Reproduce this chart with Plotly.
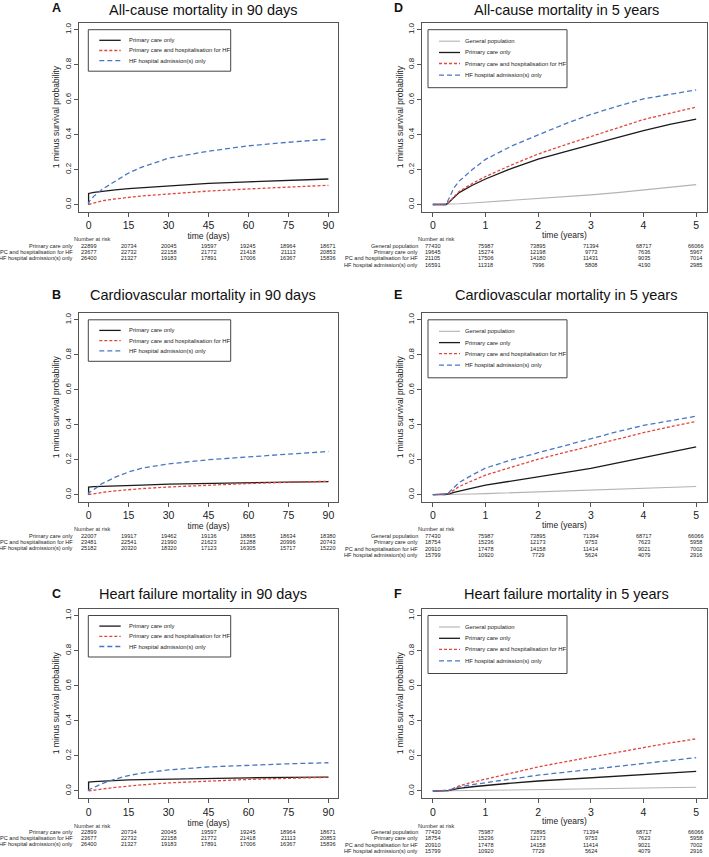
import plotly.graph_objects as go

W, H = 709, 857
FONT = "Liberation Sans, Arial, Helvetica, sans-serif"

# ---------------- data ----------------
DAYS = [0, 0, 2, 5, 10, 15, 20, 30, 45, 60, 75, 90]
YEARS = [0, 0.25, 0.3, 0.4, 0.5, 0.75, 1, 1.5, 2, 2.5, 3, 3.5, 4, 4.5, 5]

DAY_TICKS = [0, 15, 30, 45, 60, 75, 90]
YEAR_TICKS = [0, 1, 2, 3, 4, 5]
Y_TICKS = [0, 0.2, 0.4, 0.6, 0.8, 1.0]
Y_TICK_LABELS = ["0.0", "0.2", "0.4", "0.6", "0.8", "1.0"]

GP = "General population"
PC = "Primary care only"
PCH = "Primary care and hospitalisation for HF"
HF = "HF hospital admission(s) only"
GROUPS_90 = [PC, PCH, HF]
GROUPS_5Y = [GP, PC, PCH, HF]
RISK_LABELS_90 = ["Primary care only", "PC and hospitalisation for HF", "HF hospital admission(s) only"]
RISK_LABELS_5Y = ["General population"] + RISK_LABELS_90

# Panel A: all-cause mortality, 90 days
A_PC = [0, 0.063, 0.070, 0.076, 0.084, 0.091, 0.096, 0.108, 0.121, 0.130, 0.138, 0.146]
A_PCH = [0, 0, 0.010, 0.021, 0.032, 0.042, 0.049, 0.060, 0.077, 0.089, 0.099, 0.110]
A_HF = [0, 0.012, 0.048, 0.086, 0.133, 0.180, 0.214, 0.265, 0.305, 0.336, 0.356, 0.374]
# Panel B: cardiovascular mortality, 90 days
B_PC = [0, 0.044, 0.046, 0.048, 0.050, 0.053, 0.055, 0.060, 0.065, 0.069, 0.072, 0.075]
B_PCH = [0, 0, 0.006, 0.013, 0.022, 0.029, 0.035, 0.044, 0.055, 0.064, 0.071, 0.077]
B_HF = [0, 0.010, 0.030, 0.063, 0.100, 0.130, 0.152, 0.176, 0.200, 0.218, 0.232, 0.247]
# Panel C: heart failure mortality, 90 days
C_PC = [0, 0.051, 0.053, 0.056, 0.060, 0.063, 0.065, 0.068, 0.072, 0.075, 0.077, 0.079]
C_PCH = [0, 0, 0.005, 0.011, 0.020, 0.028, 0.035, 0.046, 0.057, 0.066, 0.072, 0.078]
C_HF = [0, 0.006, 0.020, 0.042, 0.068, 0.088, 0.102, 0.120, 0.137, 0.147, 0.155, 0.161]
# Panel D: all-cause mortality, 5 years
D_GP = [0, 0, 0.001, 0.002, 0.004, 0.009, 0.014, 0.023, 0.032, 0.043, 0.055, 0.068, 0.083, 0.098, 0.114]
D_PC = [0, 0, 0.012, 0.040, 0.068, 0.110, 0.146, 0.207, 0.260, 0.301, 0.340, 0.382, 0.423, 0.458, 0.488]
D_PCH = [0, 0, 0.012, 0.042, 0.075, 0.120, 0.160, 0.227, 0.289, 0.340, 0.390, 0.440, 0.486, 0.522, 0.557]
D_HF = [0, 0, 0.030, 0.095, 0.134, 0.200, 0.258, 0.335, 0.398, 0.460, 0.515, 0.562, 0.604, 0.632, 0.656]
# Panel E: cardiovascular mortality, 5 years
E_GP = [0, 0, 0, 0.001, 0.002, 0.004, 0.006, 0.011, 0.016, 0.020, 0.024, 0.029, 0.034, 0.040, 0.047]
E_PC = [0, 0, 0.004, 0.013, 0.021, 0.038, 0.055, 0.080, 0.104, 0.126, 0.150, 0.180, 0.212, 0.243, 0.273]
E_PCH = [0, 0, 0.006, 0.025, 0.047, 0.080, 0.112, 0.158, 0.203, 0.241, 0.279, 0.318, 0.355, 0.388, 0.419]
E_HF = [0, 0, 0.012, 0.042, 0.070, 0.113, 0.152, 0.200, 0.241, 0.282, 0.320, 0.360, 0.396, 0.424, 0.449]
# Panel F: heart failure mortality, 5 years
F_GP = [0, 0, 0, 0.001, 0.001, 0.002, 0.004, 0.006, 0.008, 0.010, 0.012, 0.015, 0.017, 0.019, 0.021]
F_PC = [0, 0, 0.002, 0.009, 0.015, 0.024, 0.032, 0.045, 0.057, 0.066, 0.076, 0.086, 0.095, 0.104, 0.112]
F_PCH = [0, 0, 0.004, 0.016, 0.029, 0.050, 0.067, 0.103, 0.137, 0.166, 0.194, 0.222, 0.248, 0.274, 0.297]
F_HF = [0, 0, 0.004, 0.014, 0.023, 0.036, 0.048, 0.069, 0.090, 0.107, 0.124, 0.140, 0.156, 0.174, 0.190]

# Numbers at risk
RISK_A = [[22899, 20734, 20045, 19597, 19245, 18964, 18671],
          [23677, 22732, 22158, 21772, 21418, 21113, 20853],
          [26400, 21327, 19183, 17891, 17006, 16367, 15836]]
RISK_B = [[22007, 19917, 19462, 19136, 18865, 18634, 18380],
          [23481, 22541, 21990, 21623, 21288, 20996, 20743],
          [25182, 20320, 18320, 17123, 16305, 15717, 15220]]
RISK_C = [[22899, 20734, 20045, 19597, 19245, 18964, 18671],
          [23677, 22732, 22158, 21772, 21418, 21113, 20853],
          [26400, 21327, 19183, 17891, 17006, 16367, 15836]]
RISK_D = [[77430, 75987, 73895, 71394, 68717, 66066],
          [19645, 15274, 12198, 9773, 7636, 5967],
          [21105, 17506, 14180, 11431, 9035, 7014],
          [16591, 11318, 7996, 5808, 4190, 2985]]
RISK_E = [[77430, 75987, 73895, 71394, 68717, 66066],
          [18754, 15236, 12173, 9753, 7623, 5958],
          [20910, 17478, 14158, 11414, 9021, 7002],
          [15799, 10920, 7729, 5624, 4079, 2916]]
RISK_F = [[77430, 75987, 73895, 71394, 68717, 66066],
          [18754, 15236, 12173, 9753, 7623, 5958],
          [20910, 17478, 14158, 11414, 9021, 7002],
          [15799, 10920, 7729, 5624, 4079, 2916]]

# ---------------- styles / layout ----------------
STYLE = {
    GP: dict(color="#b3b3b3", width=1.1, dash="solid"),
    PC: dict(color="#1a1a1a", width=1.3, dash="solid"),
    PCH: dict(color="#e2453c", width=1.3, dash="3px,2px"),
    HF: dict(color="#4a76c1", width=1.3, dash="5px,3px"),
}

LEFT_BOX = (79.0, 338.0)
RIGHT_BOX = (422.3, 706.7)
ROW_BOX = [(22.7, 211.5), (312.8, 501.7), (608.5, 798.0)]
TITLE_Y = [10, 295, 593.5]
LETTER_Y = [8, 294.5, 594]


def fx(p):
    return p / W


def fy(p):
    return 1 - p / H


panels = [
    dict(letter="A", title="All-cause mortality in 90 days", col=0, row=0, xs=DAYS,
         series=[(PC, A_PC), (PCH, A_PCH), (HF, A_HF)], risk=RISK_A),
    dict(letter="B", title="Cardiovascular mortality in 90 days", col=0, row=1, xs=DAYS,
         series=[(PC, B_PC), (PCH, B_PCH), (HF, B_HF)], risk=RISK_B),
    dict(letter="C", title="Heart failure mortality in 90 days", col=0, row=2, xs=DAYS,
         series=[(PC, C_PC), (PCH, C_PCH), (HF, C_HF)], risk=RISK_C),
    dict(letter="D", title="All-cause mortality in 5 years", col=1, row=0, xs=YEARS,
         series=[(GP, D_GP), (PC, D_PC), (PCH, D_PCH), (HF, D_HF)], risk=RISK_D),
    dict(letter="E", title="Cardiovascular mortality in 5 years", col=1, row=1, xs=YEARS,
         series=[(GP, E_GP), (PC, E_PC), (PCH, E_PCH), (HF, E_HF)], risk=RISK_E),
    dict(letter="F", title="Heart failure mortality in 5 years", col=1, row=2, xs=YEARS,
         series=[(GP, F_GP), (PC, F_PC), (PCH, F_PCH), (HF, F_HF)], risk=RISK_F),
]

fig = go.Figure()
annotations = []
shapes = []
layout = dict(
    width=W, height=H, margin=dict(l=0, r=0, t=0, b=0),
    paper_bgcolor="white", plot_bgcolor="white",
    font=dict(family=FONT, color="#222"),
    showlegend=False,
)

for i, p in enumerate(panels, start=1):
    col, row = p["col"], p["row"]
    bx0, bx1 = LEFT_BOX if col == 0 else RIGHT_BOX
    by0, by1 = ROW_BOX[row]
    is90 = col == 0
    xticks = DAY_TICKS if is90 else YEAR_TICKS
    xrange_ = [-3.6, 93.6] if is90 else [-0.2, 5.2]
    xa = "xaxis" if i == 1 else f"xaxis{i}"
    ya = "yaxis" if i == 1 else f"yaxis{i}"
    xr = "x" if i == 1 else f"x{i}"
    yr = "y" if i == 1 else f"y{i}"

    layout[xa] = dict(
        domain=[fx(bx0), fx(bx1)], anchor=yr, range=xrange_,
        tickmode="array", tickvals=xticks, ticktext=[str(t) for t in xticks],
        ticks="outside", ticklen=4, tickcolor="#555", tickwidth=1,
        showline=True, mirror=True, linecolor="#555", linewidth=1,
        showgrid=False, zeroline=False, tickfont=dict(size=10.5, color="#222"),
        title=dict(text="time (days)" if is90 else "time (years)",
                   font=dict(size=8.5, color="#222"), standoff=1),
    )
    layout[ya] = dict(
        domain=[fy(by1), fy(by0)], anchor=xr, range=[-0.04, 1.04],
        tickmode="array", tickvals=Y_TICKS, ticktext=Y_TICK_LABELS,
        ticks="outside", ticklen=4, tickcolor="#555", tickwidth=1,
        showline=True, mirror=True, linecolor="#555", linewidth=1,
        showgrid=False, zeroline=False, tickangle=-90,
        tickfont=dict(size=8, color="#222"),
        title=dict(text="1 minus survival probability",
                   font=dict(size=8.5, color="#222"), standoff=2),
    )

    for grp, vals in p["series"]:
        fig.add_trace(go.Scatter(
            x=p["xs"], y=vals, mode="lines", name=grp, line=STYLE[grp],
            xaxis=xr, yaxis=yr, showlegend=False, hoverinfo="x+y+name",
        ))

    # title & letter
    tx = 203 if col == 0 else 566
    lx = 56 if col == 0 else 398
    annotations.append(dict(text=p["title"], x=fx(tx), y=fy(TITLE_Y[row]), xref="paper", yref="paper",
                            xanchor="center", yanchor="middle", showarrow=False,
                            font=dict(size=14.5, color="#111", family=FONT)))
    annotations.append(dict(text="<b>" + p["letter"] + "</b>", x=fx(lx), y=fy(LETTER_Y[row]),
                            xref="paper", yref="paper", xanchor="center", yanchor="middle",
                            showarrow=False, font=dict(size=12.5, color="#111", family=FONT)))

    # legend (drawn inside the plot box)
    groups = [g for g, _ in p["series"]]
    if is90:
        rx0, rx1 = 88.3, 230.7
        ry0, ry1 = by0 + 7.0, by0 + 48.5
        item_y = [by0 + 17.6, by0 + 27.8, by0 + 38.0]
        lx0, lx1, ltx = 99.3, 120.7, 126.7
    else:
        rx0, rx1 = 428.0, 567.0
        ry0, ry1 = by0 + 7.0, by0 + 65.0
        item_y = [by0 + 18.5, by0 + 29.8, by0 + 40.8, by0 + 52.4]
        lx0, lx1, ltx = 439.0, 460.0, 463.0
    shapes.append(dict(type="rect", xref="paper", yref="paper", x0=fx(rx0), x1=fx(rx1),
                       y0=fy(ry1), y1=fy(ry0), line=dict(color="#444", width=1),
                       fillcolor="white", layer="above"))
    for g, yy in zip(groups, item_y):
        st = STYLE[g]
        shapes.append(dict(type="line", xref="paper", yref="paper", x0=fx(lx0), x1=fx(lx1),
                           y0=fy(yy), y1=fy(yy),
                           line=dict(color=st["color"], width=st["width"], dash=st["dash"]),
                           layer="above"))
        annotations.append(dict(text=g, x=fx(ltx), y=fy(yy), xref="paper", yref="paper",
                                xanchor="left", yanchor="middle", showarrow=False,
                                font=dict(size=5.85, color="#222", family=FONT)))

    # number at risk table
    hdr_y = by1 + 27.5
    if is90:
        labels = RISK_LABELS_90
        offs = [6.7, 12.7, 18.7]
        lab_right, hdr_left = 75.0, 71.7
    else:
        labels = RISK_LABELS_5Y
        offs = [6.7, 12.9, 19.3, 25.8]
        lab_right, hdr_left = 419.7, 415.7
    annotations.append(dict(text="Number at risk", x=fx(hdr_left), y=fy(hdr_y), xref="paper", yref="paper",
                            xanchor="left", yanchor="middle", showarrow=False,
                            font=dict(size=5.6, color="#333", family=FONT)))
    for lab, off, counts in zip(labels, offs, p["risk"]):
        yy = fy(hdr_y + off)
        annotations.append(dict(text=lab, x=fx(lab_right), y=yy, xref="paper", yref="paper",
                                xanchor="right", yanchor="middle", showarrow=False,
                                font=dict(size=5.6, color="#222", family=FONT)))
        for t, n in zip(xticks, counts):
            annotations.append(dict(text=str(n), x=t, y=yy, xref=xr, yref="paper",
                                    xanchor="center", yanchor="middle", showarrow=False,
                                    font=dict(size=5.6, color="#222", family=FONT)))

layout["annotations"] = annotations
layout["shapes"] = shapes
fig.update_layout(**layout)
fig.write_html(
    "out.html",
    config={"displayModeBar": False},
    post_script="document.body.style.margin='0';document.body.style.padding='0';"
                "document.documentElement.style.overflow='hidden';",
)
